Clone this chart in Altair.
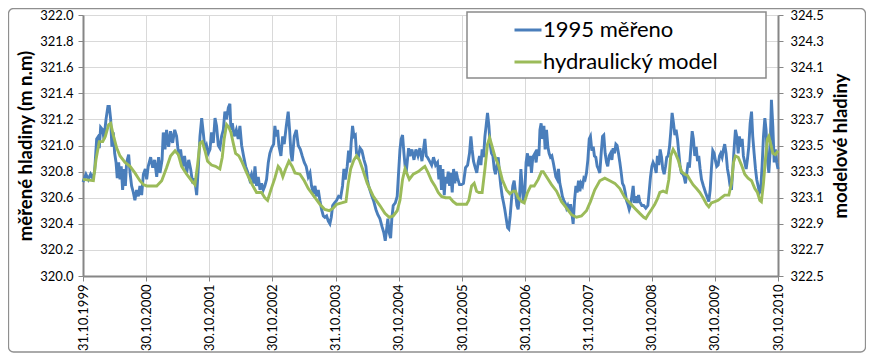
import altair as alt
import pandas as pd

# ---------------- data ----------------
START_DATE = "1999-10-31"          # day 0 of the series

series_names = ["1995 měřeno", "hydraulický model"]
series_colors = ["#4a7ebb", "#9bbb59"]

# measured water level (left axis, m n.m.), days since START_DATE
measured_day = [
    0, 17, 31, 44, 56, 67, 79, 89, 94, 102, 114, 121, 133, 144, 152, 160, 167, 175, 183, 191,
    198, 206, 214, 221, 229, 237, 245, 252, 264, 272, 281, 291, 300, 310, 320, 329, 339, 349, 360, 368,
    377, 391, 403, 414, 426, 437, 445, 457, 464, 474, 483, 495, 506, 518, 530, 541, 553, 564, 576, 587,
    599, 611, 622, 634, 645, 657, 666, 676, 686, 695, 705, 714, 724, 734, 743, 753, 763, 772, 782, 791,
    801, 811, 820, 830, 840, 849, 855, 863, 874, 886, 897, 907, 917, 928, 940, 951, 963, 974, 986, 994,
    1003, 1013, 1023, 1032, 1042, 1051, 1061, 1071, 1080, 1090, 1102, 1109, 1117, 1125, 1132, 1144, 1154, 1163, 1175, 1186,
    1194, 1202, 1209, 1221, 1233, 1244, 1256, 1267, 1279, 1290, 1302, 1312, 1321, 1331, 1341, 1350, 1360, 1369, 1379, 1389,
    1398, 1408, 1418, 1427, 1435, 1443, 1454, 1466, 1477, 1489, 1500, 1508, 1516, 1527, 1535, 1543, 1550, 1558, 1566, 1574,
    1581, 1593, 1601, 1612, 1624, 1635, 1643, 1651, 1658, 1670, 1681, 1693, 1704, 1716, 1728, 1739, 1747, 1755, 1762, 1770,
    1778, 1785, 1793, 1805, 1816, 1824, 1832, 1839, 1847, 1855, 1862, 1870, 1882, 1889, 1901, 1913, 1924, 1936, 1947, 1959,
    1976, 1984, 1991, 2003, 2015, 2026, 2038, 2049, 2057, 2065, 2072, 2080, 2088, 2095, 2103, 2111, 2119, 2126, 2134, 2142,
    2149, 2157, 2165, 2176, 2188, 2199, 2211, 2223, 2234, 2242, 2249, 2257, 2265, 2276, 2284, 2292, 2300, 2307, 2315, 2323,
    2330, 2338, 2346, 2353, 2361, 2369, 2377, 2384, 2392, 2400, 2407, 2415, 2423, 2431, 2438, 2446, 2454, 2461, 2469, 2477,
    2484, 2492, 2500, 2508, 2515, 2523, 2531, 2538, 2546, 2554, 2561, 2569, 2577, 2585, 2592, 2600, 2612, 2619, 2627, 2635,
    2641, 2648, 2656, 2664, 2671, 2679, 2687, 2694, 2702, 2710, 2718, 2725, 2733, 2741, 2748, 2756, 2764, 2771, 2779, 2787,
    2795, 2802, 2810, 2818, 2825, 2833, 2841, 2849, 2856, 2864, 2872, 2879, 2887, 2895, 2902, 2910, 2918, 2926, 2933, 2941,
    2949, 2956, 2964, 2972, 2979, 2987, 2995, 3003, 3010, 3018, 3026, 3033, 3041, 3049, 3057, 3064, 3072, 3080, 3087, 3095,
    3103, 3110, 3118, 3126, 3134, 3141, 3149, 3157, 3164, 3172, 3180, 3187, 3195, 3203, 3211, 3218, 3230, 3241, 3253, 3265,
    3272, 3280, 3288, 3295, 3305, 3313, 3320, 3328, 3336, 3344, 3351, 3359, 3367, 3374, 3382, 3390, 3397, 3405, 3413, 3421,
    3428, 3436, 3444, 3451, 3459, 3467, 3474, 3482, 3490, 3498, 3505, 3513, 3521, 3528, 3536, 3544, 3552, 3559, 3567, 3575,
    3586, 3598, 3609, 3617, 3625, 3632, 3640, 3648, 3656, 3663, 3671, 3679, 3686, 3694, 3702, 3709, 3717, 3725, 3733, 3740,
    3748, 3756, 3763, 3771, 3779, 3787, 3794, 3802, 3810, 3817, 3825, 3833, 3840, 3848, 3856, 3864, 3871, 3879, 3887, 3894,
    3902, 3910, 3917, 3925, 3933, 3941, 3948, 3956, 3964, 3971, 3979, 3987, 3995, 4002, 4010, 4017,
]
measured_level = [
    320.72, 320.78, 320.74, 320.78, 320.75, 320.80, 321.05, 321.07, 320.98, 321.14, 321.12, 321.05, 321.20, 321.30, 321.30, 321.20, 320.99, 321.10, 320.94, 320.87,
    320.75, 320.87, 320.74, 320.84, 320.66, 320.82, 320.69, 320.87, 320.93, 320.79, 320.69, 320.64, 320.58, 320.66, 320.61, 320.69, 320.62, 320.78, 320.82, 320.74,
    320.84, 320.91, 320.83, 320.89, 320.76, 320.91, 320.79, 320.89, 321.10, 320.97, 321.12, 320.99, 321.11, 321.02, 321.12, 321.07, 320.92, 320.97, 320.84, 320.92,
    320.79, 320.89, 320.82, 320.71, 320.75, 320.62, 320.82, 321.07, 321.21, 321.10, 320.97, 321.00, 320.94, 320.97, 321.10, 321.02, 321.21, 321.15, 321.00, 320.98,
    321.07, 321.12, 321.26, 321.20, 321.29, 321.32, 321.12, 321.17, 321.07, 321.12, 321.05, 321.15, 321.00, 320.92, 320.84, 320.80, 320.74, 320.78, 320.71, 320.84,
    320.69, 320.76, 320.66, 320.71, 320.66, 320.69, 320.74, 320.87, 320.94, 320.98, 321.01, 321.15, 321.07, 321.12, 321.00, 320.92, 321.07, 321.01, 321.15, 321.26,
    321.12, 320.94, 320.88, 321.07, 321.12, 321.00, 320.97, 320.92, 320.87, 320.84, 320.76, 320.79, 320.69, 320.64, 320.69, 320.61, 320.66, 320.58, 320.51, 320.46,
    320.45, 320.46, 320.42, 320.40, 320.45, 320.54, 320.56, 320.58, 320.61, 320.60, 320.69, 320.82, 320.74, 320.84, 320.96, 320.87, 321.02, 321.15, 321.07, 321.08,
    320.94, 320.92, 320.98, 320.96, 320.89, 320.84, 320.74, 320.69, 320.66, 320.61, 320.57, 320.51, 320.47, 320.44, 320.38, 320.33, 320.27, 320.36, 320.44, 320.33,
    320.29, 320.44, 320.54, 320.56, 320.61, 320.79, 320.97, 321.05, 321.08, 320.94, 320.84, 320.82, 320.98, 320.92, 320.97, 320.89, 320.97, 320.92, 320.98, 320.88,
    321.05, 320.92, 320.91, 320.88, 320.85, 320.91, 320.85, 320.87, 320.74, 320.85, 320.66, 320.82, 320.62, 320.76, 320.71, 320.80, 320.69, 320.79, 320.64, 320.82,
    320.71, 320.80, 320.75, 320.70, 320.70, 320.71, 320.83, 320.85, 320.94, 321.07, 320.97, 320.88, 320.84, 320.79, 320.87, 320.92, 320.85, 320.97, 320.91, 321.07,
    321.15, 321.25, 321.15, 321.01, 320.94, 320.92, 320.82, 320.78, 320.84, 320.91, 320.79, 320.69, 320.61, 320.56, 320.51, 320.44, 320.37, 320.36, 320.46, 320.59,
    320.69, 320.73, 320.64, 320.54, 320.51, 320.61, 320.82, 320.69, 320.56, 320.66, 320.87, 320.94, 320.84, 320.92, 320.79, 320.91, 320.94, 320.87, 320.97, 320.92,
    321.12, 321.17, 321.05, 321.15, 320.97, 321.12, 320.99, 320.94, 320.91, 320.92, 320.87, 320.82, 320.76, 320.74, 320.82, 320.71, 320.66, 320.61, 320.58, 320.56,
    320.52, 320.54, 320.50, 320.55, 320.49, 320.40, 320.58, 320.69, 320.64, 320.73, 320.65, 320.71, 320.69, 320.75, 320.74, 320.79, 320.89, 321.05, 321.07, 320.96,
    320.99, 320.92, 320.91, 320.84, 320.82, 320.79, 320.94, 321.07, 321.08, 320.94, 320.87, 320.84, 320.92, 320.94, 320.89, 320.98, 320.94, 321.01, 321.00, 320.94,
    320.87, 320.80, 320.71, 320.69, 320.64, 320.58, 320.55, 320.51, 320.54, 320.61, 320.69, 320.56, 320.61, 320.56, 320.62, 320.57, 320.54, 320.54, 320.52, 320.54,
    320.64, 320.76, 320.84, 320.87, 320.84, 320.79, 320.92, 320.85, 320.97, 320.91, 320.82, 320.78, 320.84, 320.91, 320.92, 320.99, 321.10, 321.25, 321.17, 321.08,
    321.12, 321.05, 320.94, 320.84, 320.79, 320.78, 320.76, 320.71, 320.79, 320.87, 320.83, 320.97, 321.11, 321.05, 320.92, 320.99, 320.88, 320.92, 320.82, 320.74,
    320.69, 320.64, 320.60, 320.57, 320.66, 320.82, 320.96, 320.94, 320.88, 320.84, 320.85, 320.92, 320.94, 320.91, 320.97, 321.01, 320.94, 320.82, 320.76, 320.69,
    320.66, 320.82, 320.97, 321.12, 321.07, 320.94, 321.07, 320.99, 321.05, 320.92, 320.87, 320.82, 320.89, 320.99, 321.17, 321.26, 321.07, 320.94, 320.82, 320.74,
    320.69, 320.64, 320.66, 320.84, 321.07, 321.21, 321.12, 320.89, 320.79, 320.94, 321.35, 321.15, 320.87, 320.97, 320.87, 320.82,
]

# hydraulic model (right axis, m n.m.), days since START_DATE
model_day = [
    0, 60, 75, 94, 114, 129, 148, 160, 175, 195, 214, 243, 272, 300, 329, 349, 368, 397, 426, 455,
    483, 506, 532, 551, 570, 599, 628, 647, 662, 676, 689, 705, 720, 743, 766, 791, 805, 816, 830, 843,
    855, 868, 882, 901, 920, 946, 974, 1003, 1032, 1051, 1067, 1086, 1109, 1128, 1140, 1155, 1171, 1190, 1209, 1225,
    1254, 1279, 1302, 1341, 1369, 1398, 1423, 1446, 1466, 1495, 1520, 1533, 1547, 1566, 1581, 1597, 1616, 1643, 1678, 1716,
    1745, 1770, 1793, 1816, 1832, 1847, 1861, 1886, 1909, 1938, 1966, 1976, 1995, 2015, 2034, 2053, 2072, 2095, 2120, 2140,
    2159, 2188, 2217, 2230, 2246, 2261, 2275, 2288, 2307, 2323, 2338, 2350, 2361, 2380, 2404, 2423, 2448, 2467, 2486, 2500,
    2515, 2535, 2550, 2569, 2588, 2608, 2631, 2650, 2660, 2679, 2708, 2737, 2766, 2795, 2823, 2852, 2881, 2910, 2933, 2958,
    2987, 3016, 3045, 3074, 3103, 3132, 3161, 3189, 3218, 3241, 3253, 3266, 3286, 3305, 3320, 3334, 3353, 3372, 3386, 3397,
    3411, 3424, 3440, 3459, 3478, 3494, 3507, 3526, 3546, 3565, 3584, 3604, 3617, 3632, 3652, 3671, 3690, 3709, 3733, 3748,
    3760, 3771, 3787, 3806, 3825, 3844, 3864, 3883, 3898, 3912, 3921, 3933, 3944, 3956, 3964, 3975, 3987, 4002, 4017,
]
model_level = [
    323.24, 323.23, 323.39, 323.53, 323.53, 323.57, 323.66, 323.67, 323.58, 323.48, 323.42, 323.37, 323.34, 323.29, 323.23, 323.20, 323.19, 323.19, 323.19, 323.23,
    323.33, 323.42, 323.46, 323.43, 323.34, 323.28, 323.23, 323.20, 323.35, 323.52, 323.53, 323.46, 323.38, 323.35, 323.34, 323.32, 323.41, 323.55, 323.66, 323.64,
    323.60, 323.52, 323.44, 323.42, 323.37, 323.29, 323.21, 323.14, 323.14, 323.10, 323.08, 323.16, 323.25, 323.34, 323.32, 323.26, 323.32, 323.38, 323.34, 323.29,
    323.28, 323.23, 323.17, 323.10, 323.05, 323.01, 323.00, 323.02, 323.05, 323.06, 323.07, 323.21, 323.32, 323.39, 323.42, 323.39, 323.32, 323.21, 323.11, 323.04,
    322.98, 322.95, 322.96, 323.00, 323.08, 323.24, 323.32, 323.24, 323.28, 323.30, 323.33, 323.34, 323.29, 323.23, 323.19, 323.14, 323.11, 323.10, 323.10, 323.07,
    323.05, 323.05, 323.05, 323.08, 323.19, 323.21, 323.15, 323.14, 323.14, 323.32, 323.51, 323.56, 323.51, 323.42, 323.34, 323.24, 323.16, 323.13, 323.15, 323.15,
    323.10, 323.07, 323.06, 323.14, 323.19, 323.19, 323.24, 323.30, 323.30, 323.26, 323.20, 323.15, 323.07, 323.02, 322.97, 322.95, 322.96, 323.00, 323.07, 323.16,
    323.23, 323.25, 323.23, 323.21, 323.17, 323.10, 323.06, 323.02, 322.98, 322.95, 322.94, 322.97, 323.01, 323.05, 323.09, 323.14, 323.15, 323.14, 323.24, 323.42,
    323.47, 323.44, 323.39, 323.30, 323.28, 323.27, 323.24, 323.20, 323.17, 323.14, 323.10, 323.05, 323.03, 323.06, 323.07, 323.08, 323.10, 323.12, 323.12, 323.21,
    323.37, 323.42, 323.41, 323.35, 323.28, 323.25, 323.23, 323.17, 323.14, 323.08, 323.07, 323.21, 323.39, 323.55, 323.57, 323.51, 323.44, 323.43, 323.46,
]

# axis ticks
x_tick_dates = [(1999, 10, 31), (2000, 10, 30), (2001, 10, 30), (2002, 10, 30), (2003, 10, 31), (2004, 10, 30),
                (2005, 10, 30), (2006, 10, 30), (2007, 10, 31), (2008, 10, 30), (2009, 10, 30), (2010, 10, 30)]
left_ticks = [320.0, 320.2, 320.4, 320.6, 320.8, 321.0, 321.2, 321.4, 321.6, 321.8, 322.0]
right_ticks = [322.5, 322.7, 322.9, 323.1, 323.3, 323.5, 323.7, 323.9, 324.1, 324.3, 324.5]
left_domain = [320.0, 322.0]
right_domain = [322.5, 324.5]

# ---------------- build ----------------
start = pd.Timestamp(START_DATE)
measured = pd.DataFrame({
    "date": start + pd.to_timedelta(measured_day, unit="D"),
    "level": measured_level,
    "series": series_names[0],
})
model = pd.DataFrame({
    "date": start + pd.to_timedelta(model_day, unit="D"),
    "level": model_level,
    "series": series_names[1],
})

FONT = "Lato"
AXIS_GREY = "#868686"
GRID_GREY = "#d9d9d9"
W, H = 695, 261

x_enc = alt.X(
    "date:T",
    scale=alt.Scale(domain=[alt.DateTime(year=x_tick_dates[0][0], month=x_tick_dates[0][1], date=x_tick_dates[0][2]),
                            alt.DateTime(year=x_tick_dates[-1][0], month=x_tick_dates[-1][1], date=x_tick_dates[-1][2])],
                    nice=False),
    axis=alt.Axis(
        title=None,
        values=[alt.DateTime(year=y, month=m, date=d) for (y, m, d) in x_tick_dates],
        format="%d.%m.%Y",
        labelAngle=270,
        labelPadding=3,
        tickSize=5,
        grid=True,
    ),
)

legend = alt.Legend(
    title=None,
    orient="none",
    legendX=430,
    legendY=0,
    symbolType="stroke",
    symbolSize=729,
    symbolStrokeWidth=3,
    labelFont=FONT,
    labelFontSize=22,
    labelColor="#000000",
    labelOffset=0,
    labelLimit=400,
    rowPadding=6,
    padding=0,
)
color_enc = alt.Color("series:N", scale=alt.Scale(domain=series_names, range=series_colors), legend=legend)

measured_line = alt.Chart(measured).mark_line(strokeWidth=2.9).encode(
    x=x_enc,
    y=alt.Y(
        "level:Q",
        scale=alt.Scale(domain=left_domain, nice=False, zero=False),
        axis=alt.Axis(
            orient="left",
            title="měřené hladiny (m n.m)",
            values=left_ticks,
            format=".1f",
            grid=True,
            labelPadding=5,
            titlePadding=4,
        ),
    ),
    color=color_enc,
)

model_line = alt.Chart(model).mark_line(strokeWidth=2.9).encode(
    x=x_enc,
    y=alt.Y(
        "level:Q",
        scale=alt.Scale(domain=right_domain, nice=False, zero=False),
        axis=alt.Axis(
            orient="right",
            title="modelové hladiny",
            titleAngle=270,
            titleBaseline="top",
            values=right_ticks,
            format=".1f",
            grid=False,
            labelPadding=7,
            titlePadding=8,
        ),
    ),
    color=color_enc,
)

one = pd.DataFrame({"k": [0]})
frame = alt.Chart(one).mark_rect(fill=None, stroke="#8f8f8f", strokeWidth=1.3, cornerRadius=5).encode(
    x=alt.value(-74.5), x2=alt.value(782.5), y=alt.value(-6.5), y2=alt.value(337)
)
legend_box = alt.Chart(one).mark_rect(fill="white", stroke="#8a8a8a", strokeWidth=1.5).encode(
    x=alt.value(384), x2=alt.value(683), y=alt.value(-3), y2=alt.value(63)
)

chart = (
    alt.layer(frame, measured_line, model_line, legend_box)
    .resolve_scale(y="independent")
    .properties(
        width=W,
        height=H,
        autosize=alt.AutoSizeParams(type="none"),
        padding={"left": 75, "top": 7, "right": 88, "bottom": 77},
        background="white",
    )
    .configure_view(stroke=None)
    .configure_axis(
        labelFont=FONT,
        labelFontSize=13,
        labelColor="#000000",
        titleFont=FONT,
        titleFontSize=18.5,
        titleFontWeight="bold",
        titleColor="#000000",
        domainColor=AXIS_GREY,
        domainWidth=2,
        tickColor=AXIS_GREY,
        tickSize=5,
        gridColor=GRID_GREY,
        gridWidth=1,
    )
)

chart.save("out.html", embed_options={"renderer": "svg", "actions": False})
